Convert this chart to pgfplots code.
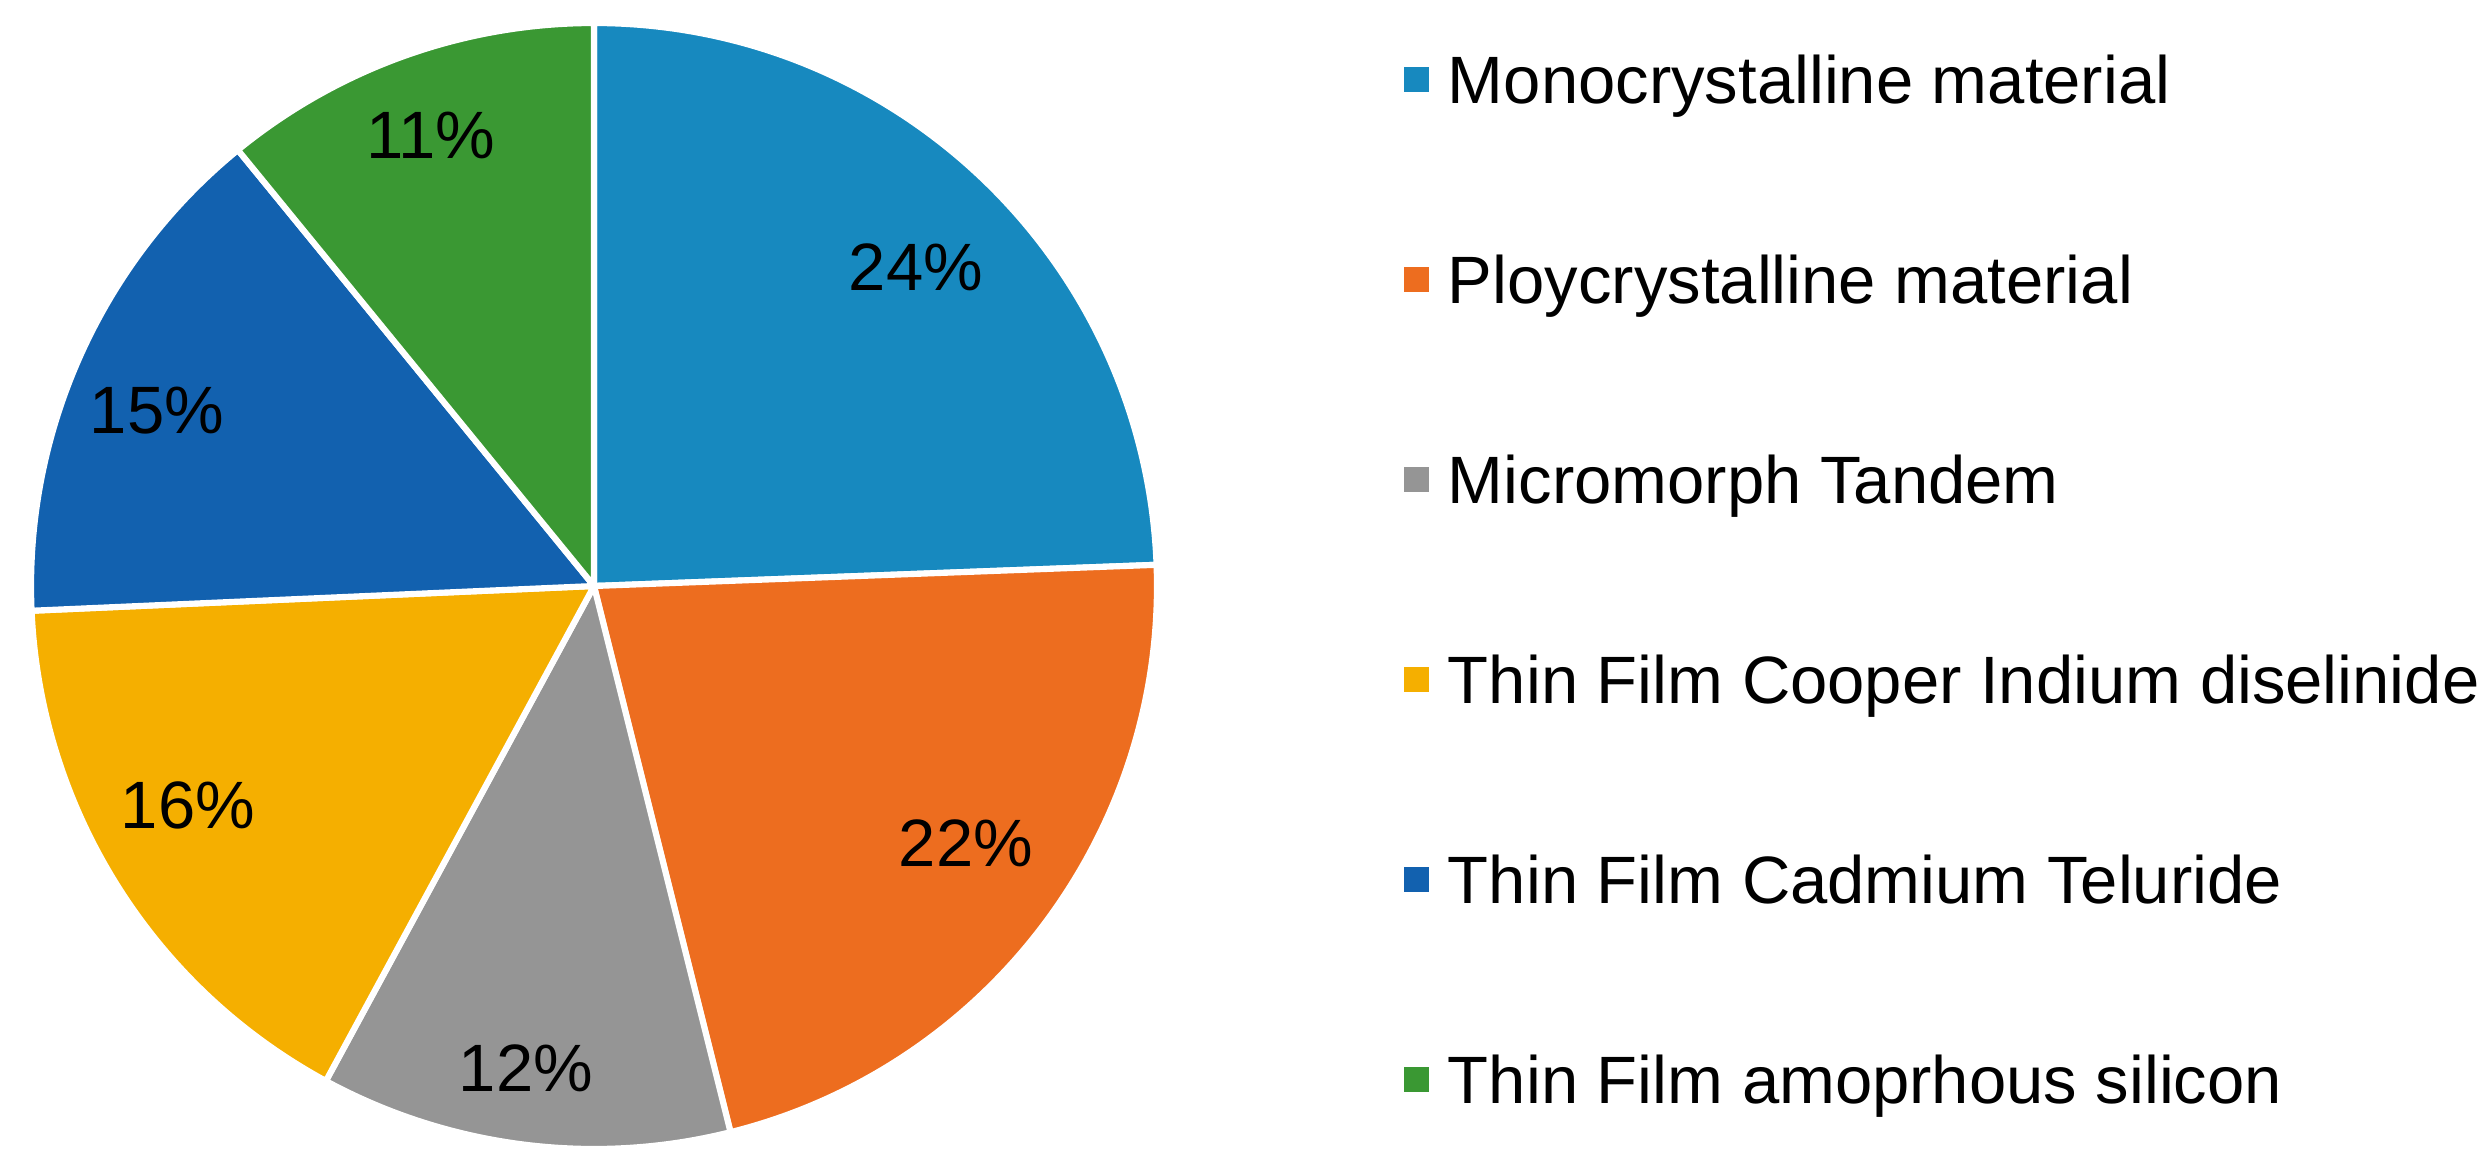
\documentclass[border=0pt]{standalone}
\usepackage{fontspec}
\setmainfont{Liberation Sans}
\usepackage{pgfplots}
\usepackage{pgfplotstable}
\pgfplotsset{compat=1.18}

\definecolor{c0}{HTML}{1789BF}
\definecolor{c1}{HTML}{ED6D1F}
\definecolor{c2}{HTML}{959595}
\definecolor{c3}{HTML}{F5AF00}
\definecolor{c4}{HTML}{1261AF}
\definecolor{c5}{HTML}{3A9833}

% share of each cell material (percent), lx/ly = where the percentage label sits
\pgfplotstableread[col sep=comma]{
label,value,lx,ly
Monocrystalline material,24.4,916,908
Ploycrystalline material,21.7,966,332
Micromorph Tandem,11.8,526,107
Thin Film Cooper Indium diselinide,16.4,188,370
Thin Film Cadmium Teluride,14.8,157,764
Thin Film amoprhous silicon,10.9,431,1040
}\pvdata

\begin{document}
\begin{tikzpicture}[font=\fontsize{12}{14.4}\selectfont]
\begin{axis}[
    name=ax,
    x=0.1791pt, y=0.1791pt,
    xmin=0, xmax=2488, ymin=0, ymax=1175,
    hide axis, clip=false,
    legend image code/.code={\fill[#1, draw=none] (0pt,-2.24pt) rectangle (4.48pt,2.24pt);},
    legend cell align=left,
    legend style={draw=none, fill=none, at={(axis cs:1404,1127.8)}, anchor=north west,
        inner sep=0pt, outer sep=0pt, column sep=3.4pt, row sep=24.42pt,
        font=\fontsize{12}{14.4}\selectfont,
        nodes={inner sep=0pt, text height=10pt, text depth=1.4pt}},
]
\pgfplotsextra{
  \gdef\cum{0}
  \foreach \i in {0,...,5}{
    \pgfplotstablegetelem{\i}{value}\of\pvdata
    \let\v\pgfplotsretval
    \pgfplotstablegetelem{\i}{lx}\of\pvdata
    \let\lx\pgfplotsretval
    \pgfplotstablegetelem{\i}{ly}\of\pvdata
    \let\ly\pgfplotsretval
    \pgfmathsetmacro\aa{90-3.6*\cum}
    \pgfmathsetmacro\ab{90-3.6*(\cum+\v)}
    \pgfmathtruncatemacro\p{round(\v)}
    \fill[fill=c\i, draw=white, line width=1.1pt] (axis cs:594,589) -- ++(\aa:100.83pt)
        arc[start angle=\aa, end angle=\ab, radius=100.83pt] -- cycle;
    \node at (axis cs:\lx,\ly) {\p\%};
    \pgfmathsetmacro\c{\cum+\v}\xdef\cum{\c}
  }
}
\pgfplotsinvokeforeach{0,...,5}{
  \pgfplotstablegetelem{#1}{label}\of\pvdata
  \addlegendimage{fill=c#1}
  \addlegendentryexpanded{\pgfplotsretval}
}
\end{axis}
\pgfresetboundingbox
\path (ax.south west) rectangle (ax.north east);
\end{tikzpicture}
\end{document}
